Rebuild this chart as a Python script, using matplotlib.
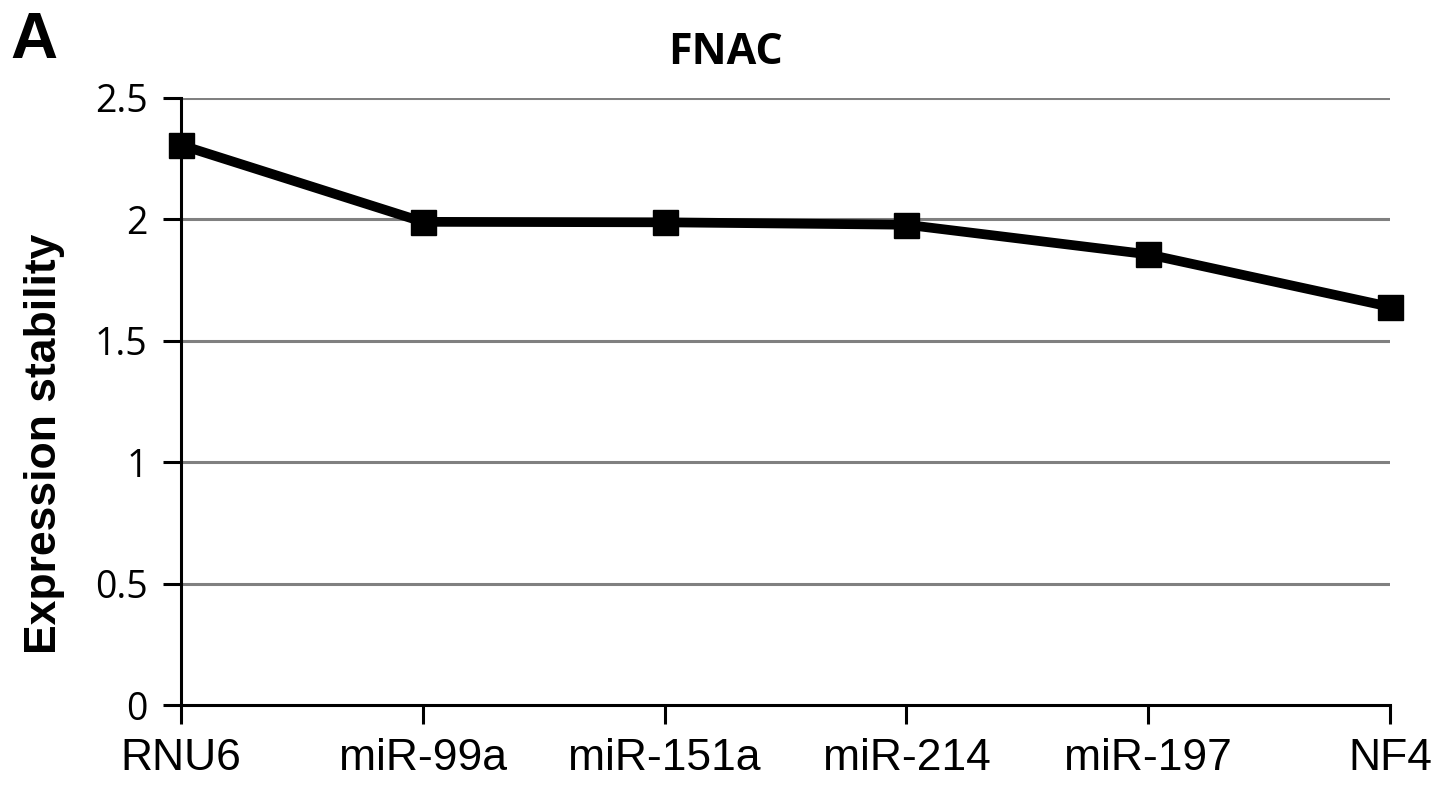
import matplotlib
matplotlib.use("Agg")
import matplotlib.pyplot as plt

categories = ["RNU6", "miR-99a", "miR-151a", "miR-214", "miR-197", "NF4"]
values = [2.306, 1.990, 1.988, 1.978, 1.856, 1.640]
yticks = [0, 0.5, 1, 1.5, 2, 2.5]
ytick_labels = ["0", "0.5", "1", "1.5", "2", "2.5"]

W, H = 1441, 791
fig = plt.figure(figsize=(W / 100, H / 100), dpi=100)
ax = fig.add_axes([181 / W, 1 - 705 / H, (1390 - 181) / W, (705 - 98) / H])

x = list(range(len(categories)))
ax.plot(x, values, color="black", lw=7, marker="s", markersize=18,
        markerfacecolor="black", markeredgecolor="black", zorder=5, clip_on=False,
        solid_joinstyle="round")

ax.set_xlim(0, len(categories) - 1)
ax.set_ylim(0, 2.5)
ax.set_yticks(yticks)
ax.set_yticklabels(ytick_labels, fontfamily="Open Sans", fontsize=27)
ax.set_xticks(x)
ax.set_xticklabels(categories, fontfamily="Liberation Sans", fontsize=32)

for yv in yticks[1:]:
    ax.axhline(yv, color="#808080", lw=2.2, zorder=1)

for s in ["top", "right"]:
    ax.spines[s].set_visible(False)
for s in ["left", "bottom"]:
    ax.spines[s].set_linewidth(2.2)
    ax.spines[s].set_color("black")
    ax.spines[s].set_zorder(3)

ax.tick_params(axis="y", direction="out", length=13, width=2.2, pad=11)
ax.tick_params(axis="x", direction="out", length=14, width=2.2, pad=10)

fig.text(725 / W, 1 - 52 / H, "FNAC", fontfamily="Open Sans", fontweight="bold",
         fontsize=31, ha="center", va="center")
fig.text(45 / W, 1 - 444 / H, "Expression stability", fontfamily="Liberation Sans",
         fontweight="bold", fontsize=32, rotation=90, ha="center", va="center")
fig.text(10 / W, 1 - 58 / H, "A", fontfamily="Liberation Sans", fontweight="bold",
         fontsize=47, ha="left", va="baseline")

fig.savefig("out.png", dpi=100)
